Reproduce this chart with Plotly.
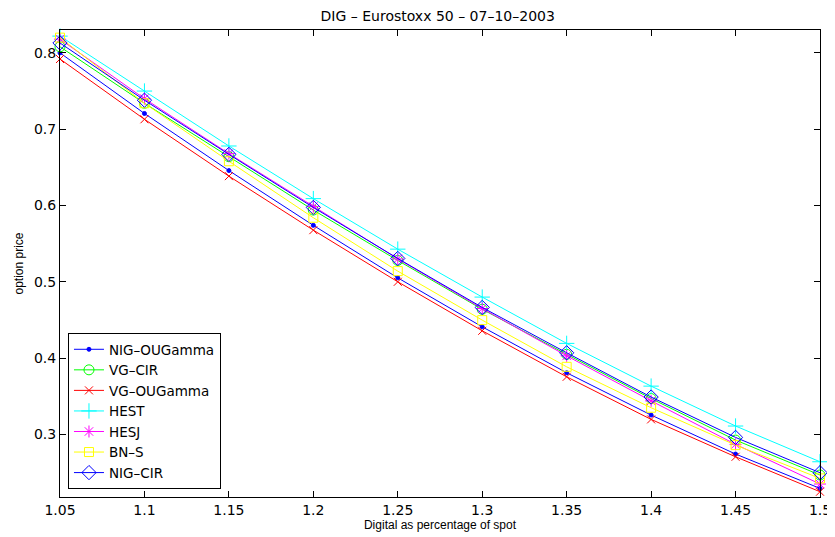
import plotly.graph_objects as go

spot = [1.05, 1.10, 1.15, 1.20, 1.25, 1.30, 1.35, 1.40, 1.45, 1.50]
x_tick_labels = ["1.05", "1.1", "1.15", "1.2", "1.25", "1.3", "1.35", "1.4", "1.45", "1.5"]
y_ticks = [0.3, 0.4, 0.5, 0.6, 0.7, 0.8]
y_tick_labels = ["0.3", "0.4", "0.5", "0.6", "0.7", "0.8"]

nig_ougamma = [0.800, 0.7206, 0.6458, 0.574, 0.5052, 0.441, 0.3808, 0.3254, 0.2743, 0.2293]
vg_cir = [0.808, 0.734, 0.664, 0.594, 0.528, 0.464, 0.405, 0.347, 0.2926, 0.2468]
vg_ougamma = [0.792, 0.713, 0.6385, 0.5677, 0.500, 0.4358, 0.3755, 0.3197, 0.2707, 0.2249]
hest = [0.822, 0.750, 0.678, 0.609, 0.5428, 0.480, 0.4193, 0.3633, 0.311, 0.2642]
hesj = [0.818, 0.740, 0.668, 0.5985, 0.530, 0.465, 0.403, 0.344, 0.287, 0.235]
bns = [0.820, 0.734, 0.658, 0.584, 0.514, 0.4498, 0.3886, 0.335, 0.286, 0.2424]
nig_cir = [0.813, 0.738, 0.667, 0.5975, 0.5306, 0.4664, 0.407, 0.349, 0.2961, 0.2498]

series = [
    ("NIG\u2013OUGamma", nig_ougamma, "#0000FF", "circle", 4),
    ("VG\u2013CIR", vg_cir, "#00FF00", "circle-open", 10),
    ("VG\u2013OUGamma", vg_ougamma, "#FF0000", "x-thin-open", 8),
    ("HEST", hest, "#00FFFF", "cross-thin-open", 11),
    ("HESJ", hesj, "#FF00FF", "asterisk-open", 10),
    ("BN\u2013S", bns, "#FFFF00", "square-open", 9),
    ("NIG\u2013CIR", nig_cir, "#0000FF", "diamond-open", 11),
]

fig = go.Figure()
for name, vals, color, sym, size in series:
    fig.add_trace(go.Scatter(
        x=spot, y=vals, name=name, mode="lines+markers", cliponaxis=False,
        line=dict(color=color, width=1),
        marker=dict(symbol=sym, size=size, color=color, line=dict(color=color, width=1)),
    ))

wide = "DejaVu Sans, Verdana, sans-serif"
narrow = "Liberation Sans, Arial, Helvetica, sans-serif"
# page body has an 8px margin, so the figure is 8px smaller than the window
W, H = 827, 529
fig.update_layout(
    width=W, height=H,
    margin=dict(l=52, r=15, t=22, b=40, autoexpand=False),
    paper_bgcolor="white", plot_bgcolor="white",
    font=dict(family=narrow, size=12, color="black"),
    title=dict(text="DIG \u2013 Eurostoxx 50 \u2013 07\u201310\u20132003", x=0.497, xanchor="center",
               xref="paper", y=1 - 3 / H, yref="container", yanchor="top", pad=dict(t=0, b=0),
               font=dict(family=wide, size=14)),
    showlegend=True,
    legend=dict(x=0.0105, y=0.0171, xanchor="left", yanchor="bottom",
                bgcolor="white", bordercolor="black", borderwidth=1,
                font=dict(family=wide, size=13.5), tracegroupgap=0, itemwidth=30),
    annotations=[dict(text="option price", textangle=-90, xref="paper", yref="paper",
                      x=0, y=0.5, xshift=-42, xanchor="center", yanchor="middle",
                      showarrow=False, font=dict(family=narrow, size=12))],
)
fig.update_xaxes(
    range=[1.05, 1.5], tickvals=spot, ticktext=x_tick_labels, automargin=False,
    ticks="inside", ticklen=6, tickcolor="black", showline=True, linecolor="black",
    linewidth=1, mirror="ticks", showgrid=False, zeroline=False,
    title=dict(text="Digital as percentage of spot", font=dict(family=narrow, size=12), standoff=0),
    tickfont=dict(family=wide, size=14),
)
fig.update_yaxes(
    range=[0.218, 0.83], tickvals=y_ticks, ticktext=y_tick_labels, automargin=False,
    ticks="inside", ticklen=6, tickcolor="black", showline=True, linecolor="black",
    linewidth=1, mirror="ticks", showgrid=False, zeroline=False,
    tickfont=dict(family=wide, size=14),
)

fig.write_html("out.html")
